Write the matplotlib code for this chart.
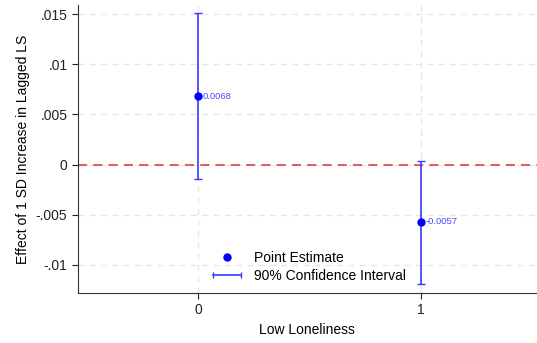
import numpy as np
import matplotlib.pyplot as plt
from matplotlib.lines import Line2D
from matplotlib.legend_handler import HandlerLine2D

plt.rcParams['font.family'] = ['Liberation Sans', 'DejaVu Sans']

# estimates for the two groups
groups = [0, 1]
estimates = [0.0068, -0.0057]
ci_low = [-0.0014, -0.0119]
ci_high = [0.0151, 0.0004]
yticks = [-0.01, -0.005, 0, 0.005, 0.01, 0.015]
ytick_labels = ['-.01', '-.005', '0', '.005', '.01', '.015']

fig = plt.figure(figsize=(5.37, 3.43), dpi=100)
ax = fig.add_axes([0.145, 0.146, 0.855, 0.839])

est = np.array(estimates)
err = np.array([est - np.array(ci_low), np.array(ci_high) - est])

ax.axhline(0, color='#e03030', linestyle=(0, (6, 4)), linewidth=1.1, zorder=2)
ax.errorbar(groups, est, yerr=err, fmt='none', ecolor='#3a3aff', elinewidth=1.2,
            capsize=3, capthick=1.0, zorder=3)
ax.plot(groups, est, 'o', color='#0000ff', markersize=5, zorder=4)

for g, v in zip(groups, estimates):
    ax.text(g + 0.022, v, f'{v:.4f}', color='#4a4aff', fontsize=6.8,
            va='center', ha='left')

# legend with proxy artists, CI handle gets caps at both ends
h1 = Line2D([], [], marker='o', color='#0000ff', linestyle='none', markersize=5)
h2 = Line2D([], [], color='#3a3aff', linewidth=1.2, marker='|', markersize=5)
ax.legend([h1, h2], ['Point Estimate', '90% Confidence Interval'], frameon=False,
          loc='lower left', bbox_to_anchor=(0.265, 0.0), fontsize=10,
          handlelength=2.6, handletextpad=0.6, borderaxespad=0.3, labelspacing=0.3,
          handler_map={h2: HandlerLine2D(numpoints=2), h1: HandlerLine2D(numpoints=1)})

ax.set_xlim(-0.54, 1.52)
ax.set_ylim(-0.0128, 0.0159)
ax.set_xticks(groups)
ax.set_yticks(yticks)
ax.set_yticklabels(ytick_labels)
ax.grid(True, color='#e6e6e6', linestyle=(0, (5, 4)), linewidth=0.9)
ax.set_axisbelow(True)
for s in ['top', 'right']:
    ax.spines[s].set_visible(False)
for s in ['left', 'bottom']:
    ax.spines[s].set_color('#333333')
ax.tick_params(labelsize=10, colors='#222222', length=4)

ax.set_xlabel('Low Loneliness', fontsize=10)
ax.set_ylabel('Effect of 1 SD Increase in Lagged LS', fontsize=10)

fig.savefig('out.png', dpi=100)
